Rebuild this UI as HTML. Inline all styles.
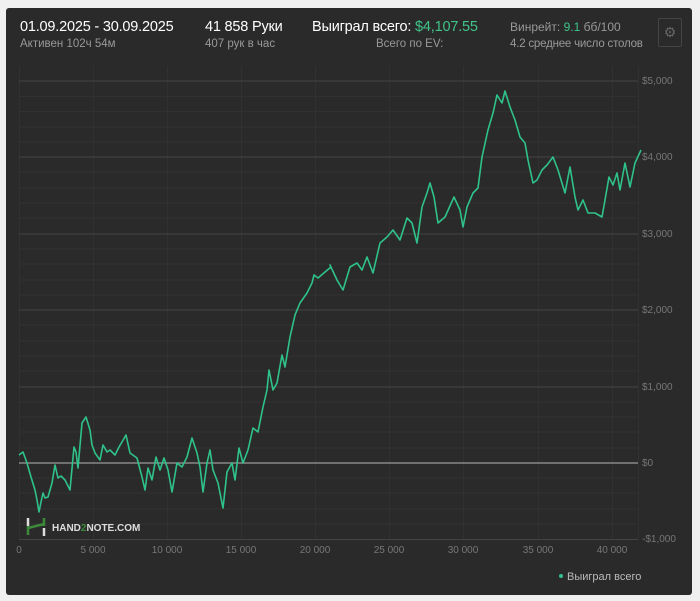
<!DOCTYPE html>
<html><head><meta charset="utf-8"><style>
body{margin:0;background:#f0f0f0;width:700px;height:601px;overflow:hidden;font-family:"Liberation Sans",sans-serif}
.p{position:absolute;left:6px;top:8px;width:686px;height:587px;background:#2a2a2a;border-radius:3px}
.t{position:absolute;color:#fff;font-size:14.5px;top:19px;letter-spacing:-0.2px}
.s{position:absolute;color:#999;font-size:11.5px;top:38px}
</style></head><body>
<div class="p"></div>
<div class="t" style="left:20px">01.09.2025 - 30.09.2025</div>
<div class="s" style="left:20px">Активен 102ч 54м</div>
<div class="t" style="left:205px">41 858 Руки</div>
<div class="s" style="left:205px">407 рук в час</div>
<div class="t" style="left:312px">Выиграл всего: <span style="color:#3fc48a">$4,107.55</span></div>
<div class="s" style="left:376px">Всего по EV:</div>
<div class="s" style="left:510px;top:20px;font-size:12px">Винрейт: <span style="color:#3fc48a">9.1</span> бб/100</div>
<div class="s" style="left:510px;font-size:11.5px;letter-spacing:-0.2px">4.2 среднее число столов</div>
<div style="position:absolute;left:658px;top:18px;width:22px;height:27px;border:1px solid #444;border-radius:2px;color:#666;font-size:14px;text-align:center;line-height:27px">⚙</div>
<svg style="position:absolute;left:0;top:0" width="700" height="601">
<g stroke="#313131" stroke-width="1">
<line x1="19" x2="638" y1="96.5" y2="96.5"/><line x1="19" x2="638" y1="111.5" y2="111.5"/><line x1="19" x2="638" y1="127" y2="127"/><line x1="19" x2="638" y1="142" y2="142"/>
<line x1="19" x2="638" y1="172" y2="172"/><line x1="19" x2="638" y1="188" y2="188"/><line x1="19" x2="638" y1="203" y2="203"/><line x1="19" x2="638" y1="218" y2="218"/>
<line x1="19" x2="638" y1="249" y2="249"/><line x1="19" x2="638" y1="264" y2="264"/><line x1="19" x2="638" y1="280" y2="280"/><line x1="19" x2="638" y1="295" y2="295"/>
<line x1="19" x2="638" y1="325" y2="325"/><line x1="19" x2="638" y1="341" y2="341"/><line x1="19" x2="638" y1="356" y2="356"/><line x1="19" x2="638" y1="371" y2="371"/>
<line x1="19" x2="638" y1="402" y2="402"/><line x1="19" x2="638" y1="417" y2="417"/><line x1="19" x2="638" y1="432" y2="432"/><line x1="19" x2="638" y1="448" y2="448"/>
<line x1="19" x2="638" y1="478" y2="478"/><line x1="19" x2="638" y1="493" y2="493"/><line x1="19" x2="638" y1="509" y2="509"/><line x1="19" x2="638" y1="524" y2="524"/>
<line x1="19.5" x2="19.5" y1="66" y2="539"/><line x1="93.5" x2="93.5" y1="66" y2="539"/><line x1="167.5" x2="167.5" y1="66" y2="539"/><line x1="241.5" x2="241.5" y1="66" y2="539"/><line x1="315.5" x2="315.5" y1="66" y2="539"/><line x1="389.5" x2="389.5" y1="66" y2="539"/><line x1="463.5" x2="463.5" y1="66" y2="539"/><line x1="538.5" x2="538.5" y1="66" y2="539"/><line x1="612.5" x2="612.5" y1="66" y2="539"/><line x1="638.5" x2="638.5" y1="66" y2="539"/>
</g>
<g stroke="#444" stroke-width="1">
<line x1="19" x2="638" y1="81" y2="81"/><line x1="19" x2="638" y1="157" y2="157"/><line x1="19" x2="638" y1="234" y2="234"/><line x1="19" x2="638" y1="310" y2="310"/><line x1="19" x2="638" y1="387" y2="387"/><line x1="19" x2="638" y1="539.5" y2="539.5"/>
</g>
<line x1="19" x2="638" y1="463" y2="463" stroke="#888" stroke-width="1.5"/>
<g fill="#777" font-size="10" font-family="Liberation Sans,sans-serif">
<text x="642" y="84">$5,000</text><text x="642" y="160">$4,000</text><text x="642" y="237">$3,000</text><text x="642" y="313">$2,000</text><text x="642" y="390">$1,000</text><text x="642" y="466">$0</text><text x="642" y="542">-$1,000</text>
<g text-anchor="middle"><text x="19" y="553">0</text><text x="93" y="553">5 000</text><text x="167" y="553">10 000</text><text x="241" y="553">15 000</text><text x="315" y="553">20 000</text><text x="389" y="553">25 000</text><text x="463" y="553">30 000</text><text x="538" y="553">35 000</text><text x="612" y="553">40 000</text></g>
</g>
<polyline fill="none" stroke="#2fc28a" stroke-width="1.6" stroke-linejoin="round" points="19,455 23,452 27,463 31,477 35,490 37,500 39,512 41,502 43,493 45,498 48,497 52,483 55,465 58,478 61,476 65,480 70,490 74,447 76,452 78,468 82,423 86,417 90,430 92,445 95,453 100,460 103,445 107,452 110,450 115,455 119,447 122,442 126,435 130,453 137,458 142,477 145,490 148,468 152,480 156,457 160,470 164,458 168,470 172,492 177,463 182,467 187,457 192,438 197,453 200,467 203,492 207,463 210,450 213,470 218,483 223,508 227,472 232,463 235,480 239,448 243,463 248,450 253,428 258,432 263,407 267,390 269,370 273,390 277,383 282,355 285,367 290,337 295,315 300,303 307,293 312,283 314,275 318,278 325,272 331,267 330,265 337,280 343,290 350,267 357,263 362,270 367,257 373,273 380,243 387,237 393,230 400,240 407,218 412,223 417,243 422,207 427,193 430,183 434,197 438,223 445,217 454,197 460,210 463,227 467,207 473,193 478,188 482,157 488,130 493,113 497,95 502,103 505,91 510,107 515,120 520,137 525,143 528,160 533,183 537,180 542,170 547,165 553,157 558,170 565,193 570,167 575,197 578,210 583,200 588,213 595,213 602,217 605,200 609,177 613,185 617,173 620,190 625,163 630,187 635,163 641,150"/>
<g stroke-width="2.5"><line x1="28" y1="518" x2="28" y2="526" stroke="#ddd"/><line x1="28" y1="526" x2="28" y2="535" stroke="#3a8a3a"/><line x1="44" y1="518" x2="44" y2="526" stroke="#3a8a3a"/><line x1="44" y1="528" x2="44" y2="536" stroke="#ddd"/><line x1="28" y1="528" x2="44" y2="524" stroke="#3a8a3a"/></g>
<text x="52" y="531" fill="#ddd" font-size="10" font-weight="bold" font-family="Liberation Sans,sans-serif">HAND<tspan fill="#3a8a3a">2</tspan>NOTE.COM</text>
<circle cx="561" cy="576" r="2" fill="#2fc28a"/>
<text x="567" y="580" fill="#bbb" font-size="11" font-family="Liberation Sans,sans-serif">Выиграл всего</text>
</svg>
</body></html>
